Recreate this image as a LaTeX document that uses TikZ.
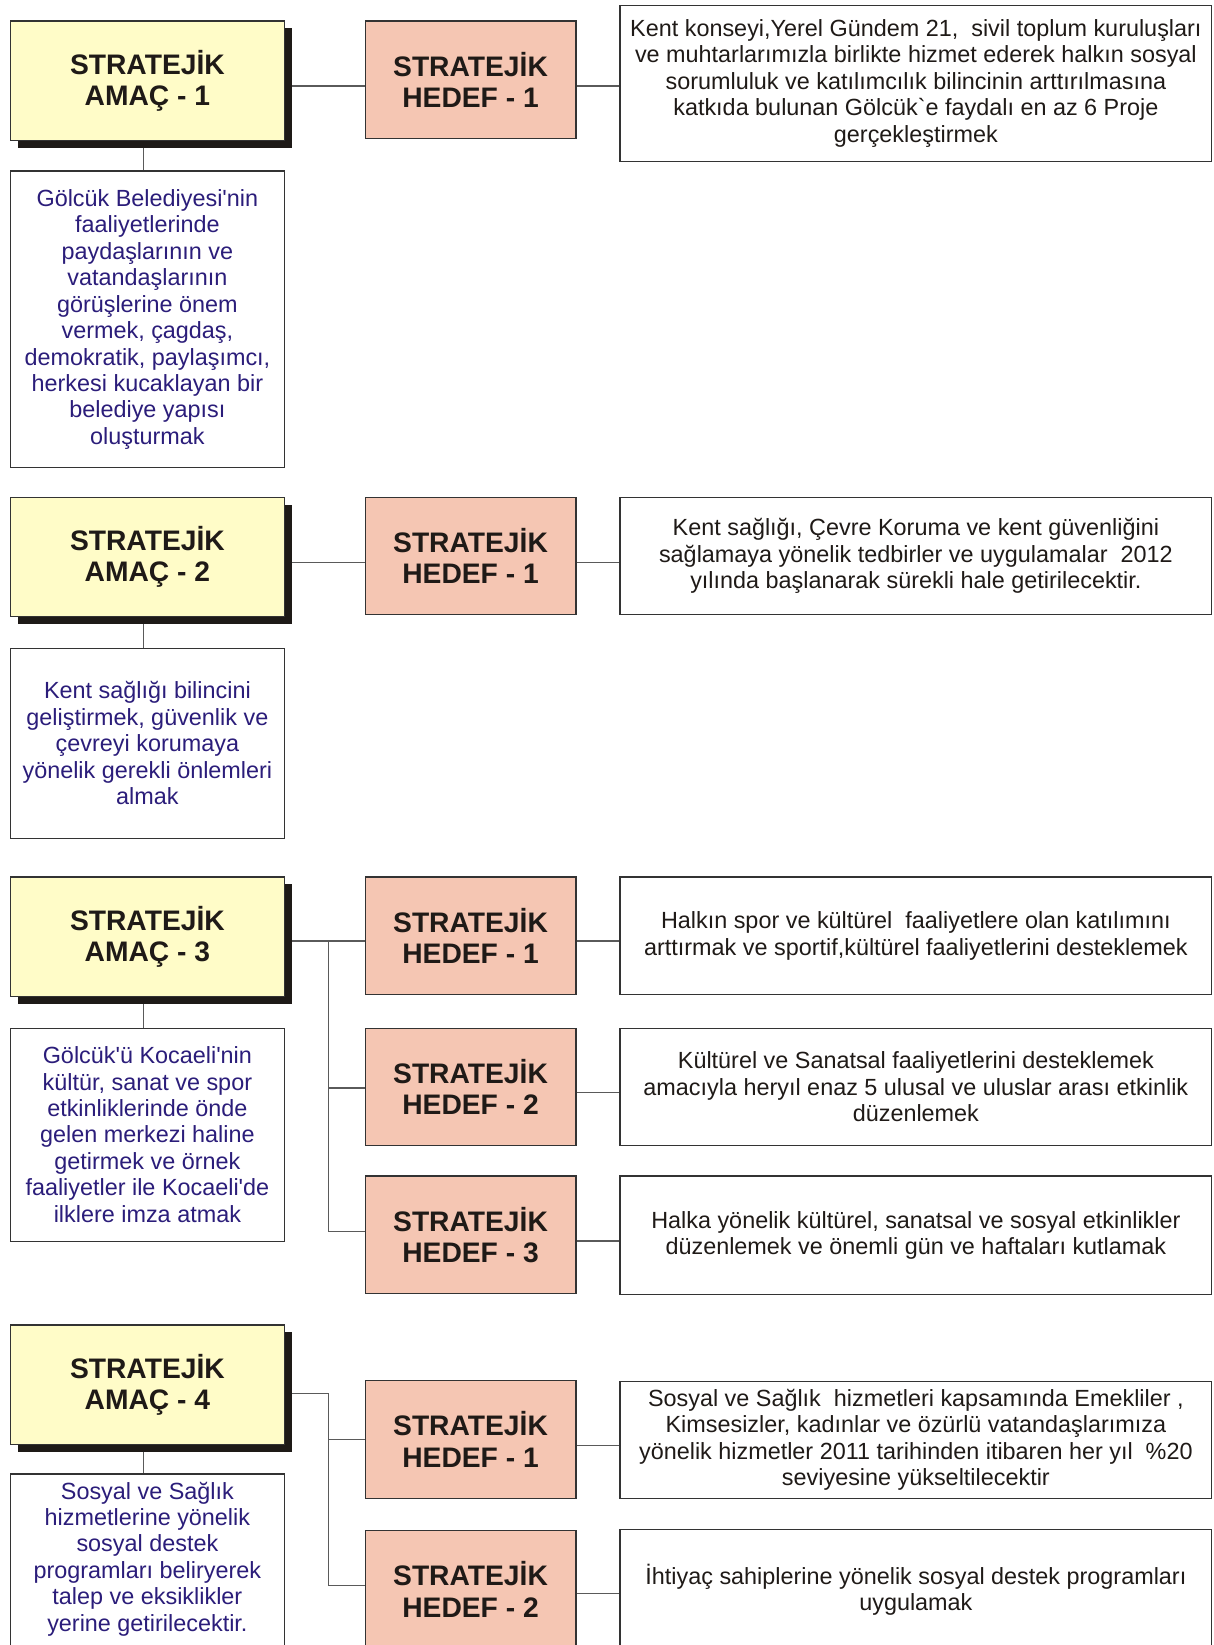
\documentclass[tikz,border=0pt]{standalone}
\usepackage{fontspec}
\setmainfont{Liberation Sans}[Ligatures=TeXOff]
\usetikzlibrary{shadows,backgrounds}
\definecolor{amacfill}{HTML}{FFFCC8}
\definecolor{hedeffill}{HTML}{F5C6B3}
\definecolor{bordc}{HTML}{333333}
\definecolor{linec}{HTML}{5A5A5A}
\definecolor{shadc}{HTML}{1E1A17}
\definecolor{inkc}{HTML}{1F1A17}
\definecolor{descc}{HTML}{2B1D7A}
\newcommand\titlefnt{\fontsize{26.9}{30}\selectfont\bfseries}
\newcommand\bodyfnt{\fontsize{22.3}{25.2}\selectfont}
\begin{document}
\begin{tikzpicture}[x=1pt,y=-1pt,
  box/.style={draw=bordc, line width=1.1pt, anchor=north west, align=center, inner sep=0pt, outer sep=0pt},
  amac/.style={box, fill=amacfill, minimum width=261pt, minimum height=114pt, font=\titlefnt, text=inkc,
     drop shadow={shadow xshift=7.5pt, shadow yshift=-7pt, opacity=1, fill=shadc}},
  hedef/.style={box, fill=hedeffill, minimum width=201pt, minimum height=112pt, font=\titlefnt, text=inkc},
  tbox/.style={box, fill=white, minimum width=564pt, font=\bodyfnt, text=inkc},
  dbox/.style={box, fill=white, minimum width=261pt, font=\bodyfnt, text=descc},
  dtext/.style={align=center, inner sep=0pt, font=\bodyfnt, text=descc},
  conn/.style={draw=linec, line width=1.2pt}]
\useasboundingbox (0,0) rectangle (1156.3,1568);

% ---------- Group 1 ----------
\node[amac] (a1) at (10,20) {STRATEJİK\\AMAÇ - 1};
\node[hedef] (h11) at (348,20) {STRATEJİK\\HEDEF - 1};
\node[tbox, minimum height=149pt] (t11) at (591,5) {Kent konseyi,Yerel Gündem 21,\ \ sivil toplum kuruluşları\\ve muhtarlarımızla birlikte hizmet ederek halkın sosyal\\sorumluluk ve katılımcılık bilincinin arttırılmasına\\katkıda bulunan Gölcük`e faydalı en az 6 Proje\\gerçekleştirmek};
\node[dbox, minimum height=283pt] (d1) at (10,163) {Gölcük Belediyesi'nin\\faaliyetlerinde\\paydaşlarının ve\\vatandaşlarının\\görüşlerine önem\\vermek, çagdaş,\\demokratik, paylaşımcı,\\herkesi kucaklayan bir\\belediye yapısı\\oluşturmak};

% ---------- Group 2 ----------
\node[amac] (a2) at (10,474) {STRATEJİK\\AMAÇ - 2};
\node[hedef] (h21) at (348,474) {STRATEJİK\\HEDEF - 1};
\node[tbox, minimum height=112pt] (t21) at (591,474) {Kent sağlığı, Çevre Koruma ve kent güvenliğini\\sağlamaya yönelik tedbirler ve uygulamalar\ \ 2012\\yılında başlanarak sürekli hale getirilecektir.};
\node[dbox, minimum height=181pt] (d2) at (10,618) {Kent sağlığı bilincini\\geliştirmek, güvenlik ve\\çevreyi korumaya\\yönelik gerekli önlemleri\\almak};

% ---------- Group 3 ----------
\node[amac] (a3) at (10,836) {STRATEJİK\\AMAÇ - 3};
\node[hedef] (h31) at (348,836) {STRATEJİK\\HEDEF - 1};
\node[hedef] (h32) at (348,980) {STRATEJİK\\HEDEF - 2};
\node[hedef] (h33) at (348,1121) {STRATEJİK\\HEDEF - 3};
\node[tbox, minimum height=112pt] (t31) at (591,836) {Halkın spor ve kültürel\ \ faaliyetlere olan katılımını\\arttırmak ve sportif,kültürel faaliyetlerini desteklemek};
\node[tbox, minimum height=112pt] (t32) at (591,980) {Kültürel ve Sanatsal faaliyetlerini desteklemek\\amacıyla heryıl enaz 5 ulusal ve uluslar arası etkinlik\\düzenlemek};
\node[tbox, minimum height=113pt] (t33) at (591,1121) {Halka yönelik kültürel, sanatsal ve sosyal etkinlikler\\düzenlemek ve önemli gün ve haftaları kutlamak};
\node[dbox, minimum height=203pt] (d3) at (10,980) {Gölcük'ü Kocaeli'nin\\kültür, sanat ve spor\\etkinliklerinde önde\\gelen merkezi haline\\getirmek ve örnek\\faaliyetler ile Kocaeli'de\\ilklere imza atmak};

% ---------- Group 4 ----------
\node[amac] (a4) at (10,1263) {STRATEJİK\\AMAÇ - 4};
\node[hedef] (h41) at (348,1316) {STRATEJİK\\HEDEF - 1};
\node[hedef] (h42) at (348,1459) {STRATEJİK\\HEDEF - 2};
\node[tbox, minimum height=111pt] (t41) at (591,1317) {Sosyal ve Sağlık\ \ hizmetleri kapsamında Emekliler ,\\Kimsesizler, kadınlar ve özürlü vatandaşlarımıza\\yönelik hizmetler 2011 tarihinden itibaren her yıl\ \ \%20\\seviyesine yükseltilecektir};
\node[tbox, minimum height=115pt] (t42) at (591,1458) {İhtiyaç sahiplerine yönelik sosyal destek programları\\uygulamak};
\node[dbox, minimum height=200pt] (d4) at (10,1405) {};
\node[dtext] (d4t) at (140.5,1486) {Sosyal ve Sağlık\\hizmetlerine yönelik\\sosyal destek\\programları beliryerek\\talep ve eksiklikler\\yerine getirilecektir.};

% ---------- Connectors ----------
\begin{scope}[on background layer]
\fill[white] (0,0) rectangle (1156.3,1568);
\draw[conn] (a1.east |- 0,82) -- (h11.west |- 0,82);
\draw[conn] (h11.east |- 0,82) -- (t11.west |- 0,82);
\draw[conn] (a1.south -| 137,0) -- (d1.north -| 137,0);

\draw[conn] (a2.east |- 0,536) -- (h21.west |- 0,536);
\draw[conn] (h21.east |- 0,536) -- (t21.west |- 0,536);
\draw[conn] (a2.south -| 137,0) -- (d2.north -| 137,0);

\draw[conn] (a3.east |- 0,897) -- (h31.west |- 0,897);
\draw[conn] (313,897) -- (313,1174) -- (h33.west |- 0,1174);
\draw[conn] (313,1037) -- (h32.west |- 0,1037);
\draw[conn] (h31.east |- 0,897) -- (t31.west |- 0,897);
\draw[conn] (h32.east |- 0,1041) -- (t32.west |- 0,1041);
\draw[conn] (h33.east |- 0,1183) -- (t33.west |- 0,1183);
\draw[conn] (a3.south -| 137,0) -- (d3.north -| 137,0);

\draw[conn] (a4.east |- 0,1328) -- (313,1328) -- (313,1511) -- (h42.west |- 0,1511);
\draw[conn] (313,1372) -- (h41.west |- 0,1372);
\draw[conn] (h41.east |- 0,1378) -- (t41.west |- 0,1378);
\draw[conn] (h42.east |- 0,1519) -- (t42.west |- 0,1519);
\draw[conn] (a4.south -| 137,0) -- (d4.north -| 137,0);
\end{scope}
\end{tikzpicture}
\end{document}
